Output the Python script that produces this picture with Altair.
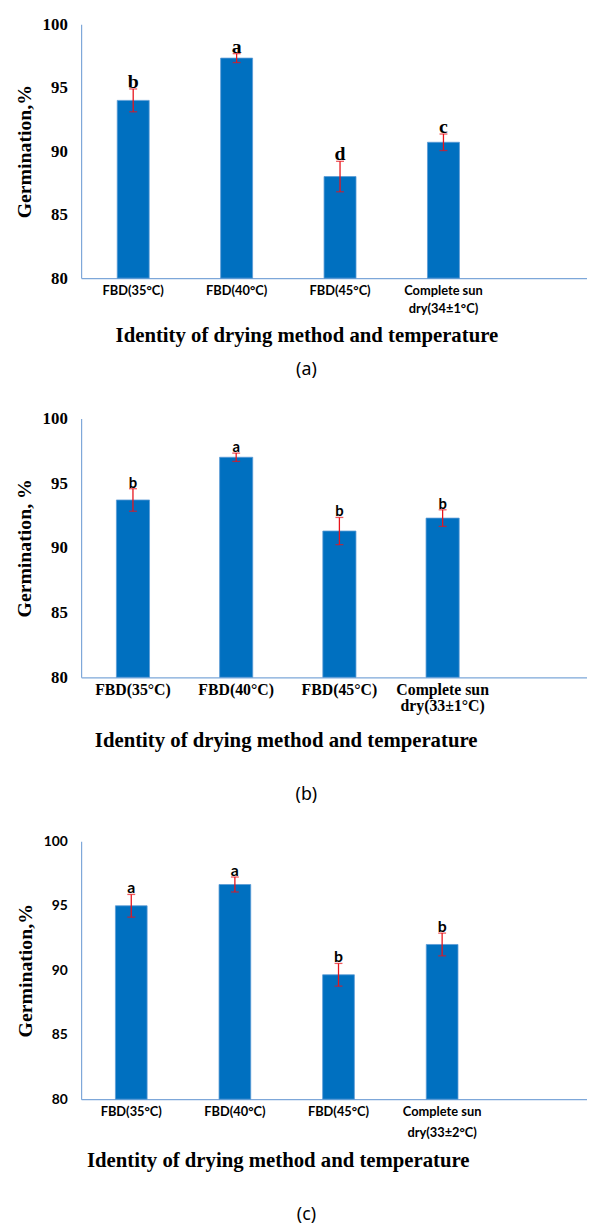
import altair as alt
import pandas as pd

# ---- data ----
categories_a = ["FBD(35°C)", "FBD(40°C)", "FBD(45°C)", "Complete sun|dry(34±1°C)"]
germination_a = [94.0, 97.33, 88.0, 90.7]
error_a = [0.9, 0.35, 1.2, 0.65]
letters_a = ["b", "a", "d", "c"]

categories_b = ["FBD(35°C)", "FBD(40°C)", "FBD(45°C)", "Complete sun|dry(33±1°C)"]
germination_b = [93.7, 97.0, 91.3, 92.3]
error_b = [0.87, 0.32, 1.05, 0.64]
letters_b = ["b", "a", "b", "b"]

categories_c = ["FBD(35°C)", "FBD(40°C)", "FBD(45°C)", "Complete sun|dry(33±2°C)"]
germination_c = [95.0, 96.65, 89.65, 92.0]
error_c = [0.88, 0.58, 0.88, 0.88]
letters_c = ["a", "a", "b", "b"]

y_ticks = [80, 85, 90, 95, 100]

SERIF = "Liberation Serif"
SANS = "Lato"
AXIS_COLOR = "#7DA7D9"
BAR_COLOR = "#0070C0"


def panel(cats, vals, errs, letters, caption, st):
    df = pd.DataFrame({
        "cat": cats,
        "g": vals,
        "lo": [v - e for v, e in zip(vals, errs)],
        "hi": [v + e for v, e in zip(vals, errs)],
        "lab": letters,
    })
    x = alt.X(
        "cat:N", sort=cats,
        scale=alt.Scale(paddingInner=st["pi"], paddingOuter=st["po"], align=st["align"]),
        axis=alt.Axis(
            title="Identity of drying method and temperature",
            titleFont=SERIF, titleFontSize=21, titleFontWeight="bold", titleColor="black",
            titleX=st["tx"], titleY=st["ty"], titleAlign="center", titleBaseline="middle",
            labelExpr="split(datum.label, '|')", labelAngle=0, labelLimit=300,
            labelFont=st["xfont"], labelFontSize=st["xsize"], labelFontWeight=st["xweight"],
            labelColor="black", labelPadding=st["xpad"], labelLineHeight=st["xlh"],
            labelBaseline="middle",
            ticks=False, domainColor=AXIS_COLOR, domainWidth=1.2,
        ),
    )
    y_scale = alt.Scale(domain=[80, 100], nice=False, zero=False)
    y = alt.Y(
        "g:Q", scale=y_scale,
        axis=alt.Axis(
            values=y_ticks, title=st["ytitle"], grid=False, ticks=False,
            domainColor=AXIS_COLOR, domainWidth=1.2,
            labelFont=st["yfont"], labelFontSize=st["ysize"], labelFontWeight=st["yweight"],
            labelColor="black", labelPadding=14,
            titleFont=SERIF, titleFontSize=20, titleFontWeight="bold", titleColor="black",
            titlePadding=8,
        ),
    )
    base = alt.Chart(df)
    bars = base.mark_bar(color=BAR_COLOR, stroke="#5B9BD5", strokeWidth=0.8).encode(
        x=x, y=y, y2=alt.datum(80)
    )
    rules = base.mark_rule(color="#E8141B", strokeWidth=1.3).encode(
        x=alt.X("cat:N", sort=cats), y=alt.Y("lo:Q"), y2="hi:Q"
    )
    cap_lo = base.mark_tick(color="#E8141B", size=8, thickness=1.3, orient="horizontal").encode(
        x=alt.X("cat:N", sort=cats), y=alt.Y("lo:Q")
    )
    cap_hi = base.mark_tick(color="#E8141B", size=8, thickness=1.3, orient="horizontal").encode(
        x=alt.X("cat:N", sort=cats), y=alt.Y("hi:Q")
    )
    text = base.mark_text(
        font=st["lfont"], fontSize=st["lsize"], fontWeight="bold", color="black",
        baseline="alphabetic", dy=-1,
    ).encode(x=alt.X("cat:N", sort=cats), y=alt.Y("hi:Q"), text="lab:N")

    return alt.layer(bars, rules, cap_lo, cap_hi, text).properties(
        width=512, height=st["h"],
        title=alt.TitleParams(
            caption, orient="bottom", anchor="middle", dx=-28, offset=st["coff"],
            font="Noto Sans", fontSize=18, fontWeight="normal", color="black",
        ),
    )


style_a = dict(pi=0.691, po=0.7913, align=0.2206, h=257,
               tx=228, ty=58, xfont=SANS, xsize=13, xweight="bold", xpad=13, xlh=17.7,
               yfont=SERIF, ysize=17, yweight="bold", ytitle="Germination,%",
               lfont=SERIF, lsize=20, coff=16)
style_b = dict(pi=0.679, po=0.790, align=0.2163, h=262,
               tx=207, ty=64, xfont=SERIF, xsize=16, xweight="bold", xpad=12, xlh=16.7,
               yfont=SERIF, ysize=17, yweight="bold", ytitle="Germination, %",
               lfont=SANS, lsize=15, coff=36)
style_c = dict(pi=0.694, po=0.788, align=0.21, h=261,
               tx=199, ty=62, xfont=SANS, xsize=13, xweight="bold", xpad=13, xlh=20.3,
               yfont=SANS, ysize=14, yweight="bold", ytitle="Germination,%",
               lfont=SANS, lsize=16, coff=36)

pa = panel(categories_a, germination_a, error_a, letters_a, "(a)", style_a)
pb = panel(categories_b, germination_b, error_b, letters_b, "(b)", style_b)
pc = panel(categories_c, germination_c, error_c, letters_c, "(c)", style_c)

chart = (
    alt.vconcat(pa, pb, pc, spacing=31)
    .resolve_scale(x="independent", y="independent")
    .configure_view(stroke=None)
    .properties(padding={"left": 6, "top": 0, "right": 0, "bottom": 0}, background="white")
)

chart.save("out.html", embed_options={"renderer": "svg", "actions": False})
